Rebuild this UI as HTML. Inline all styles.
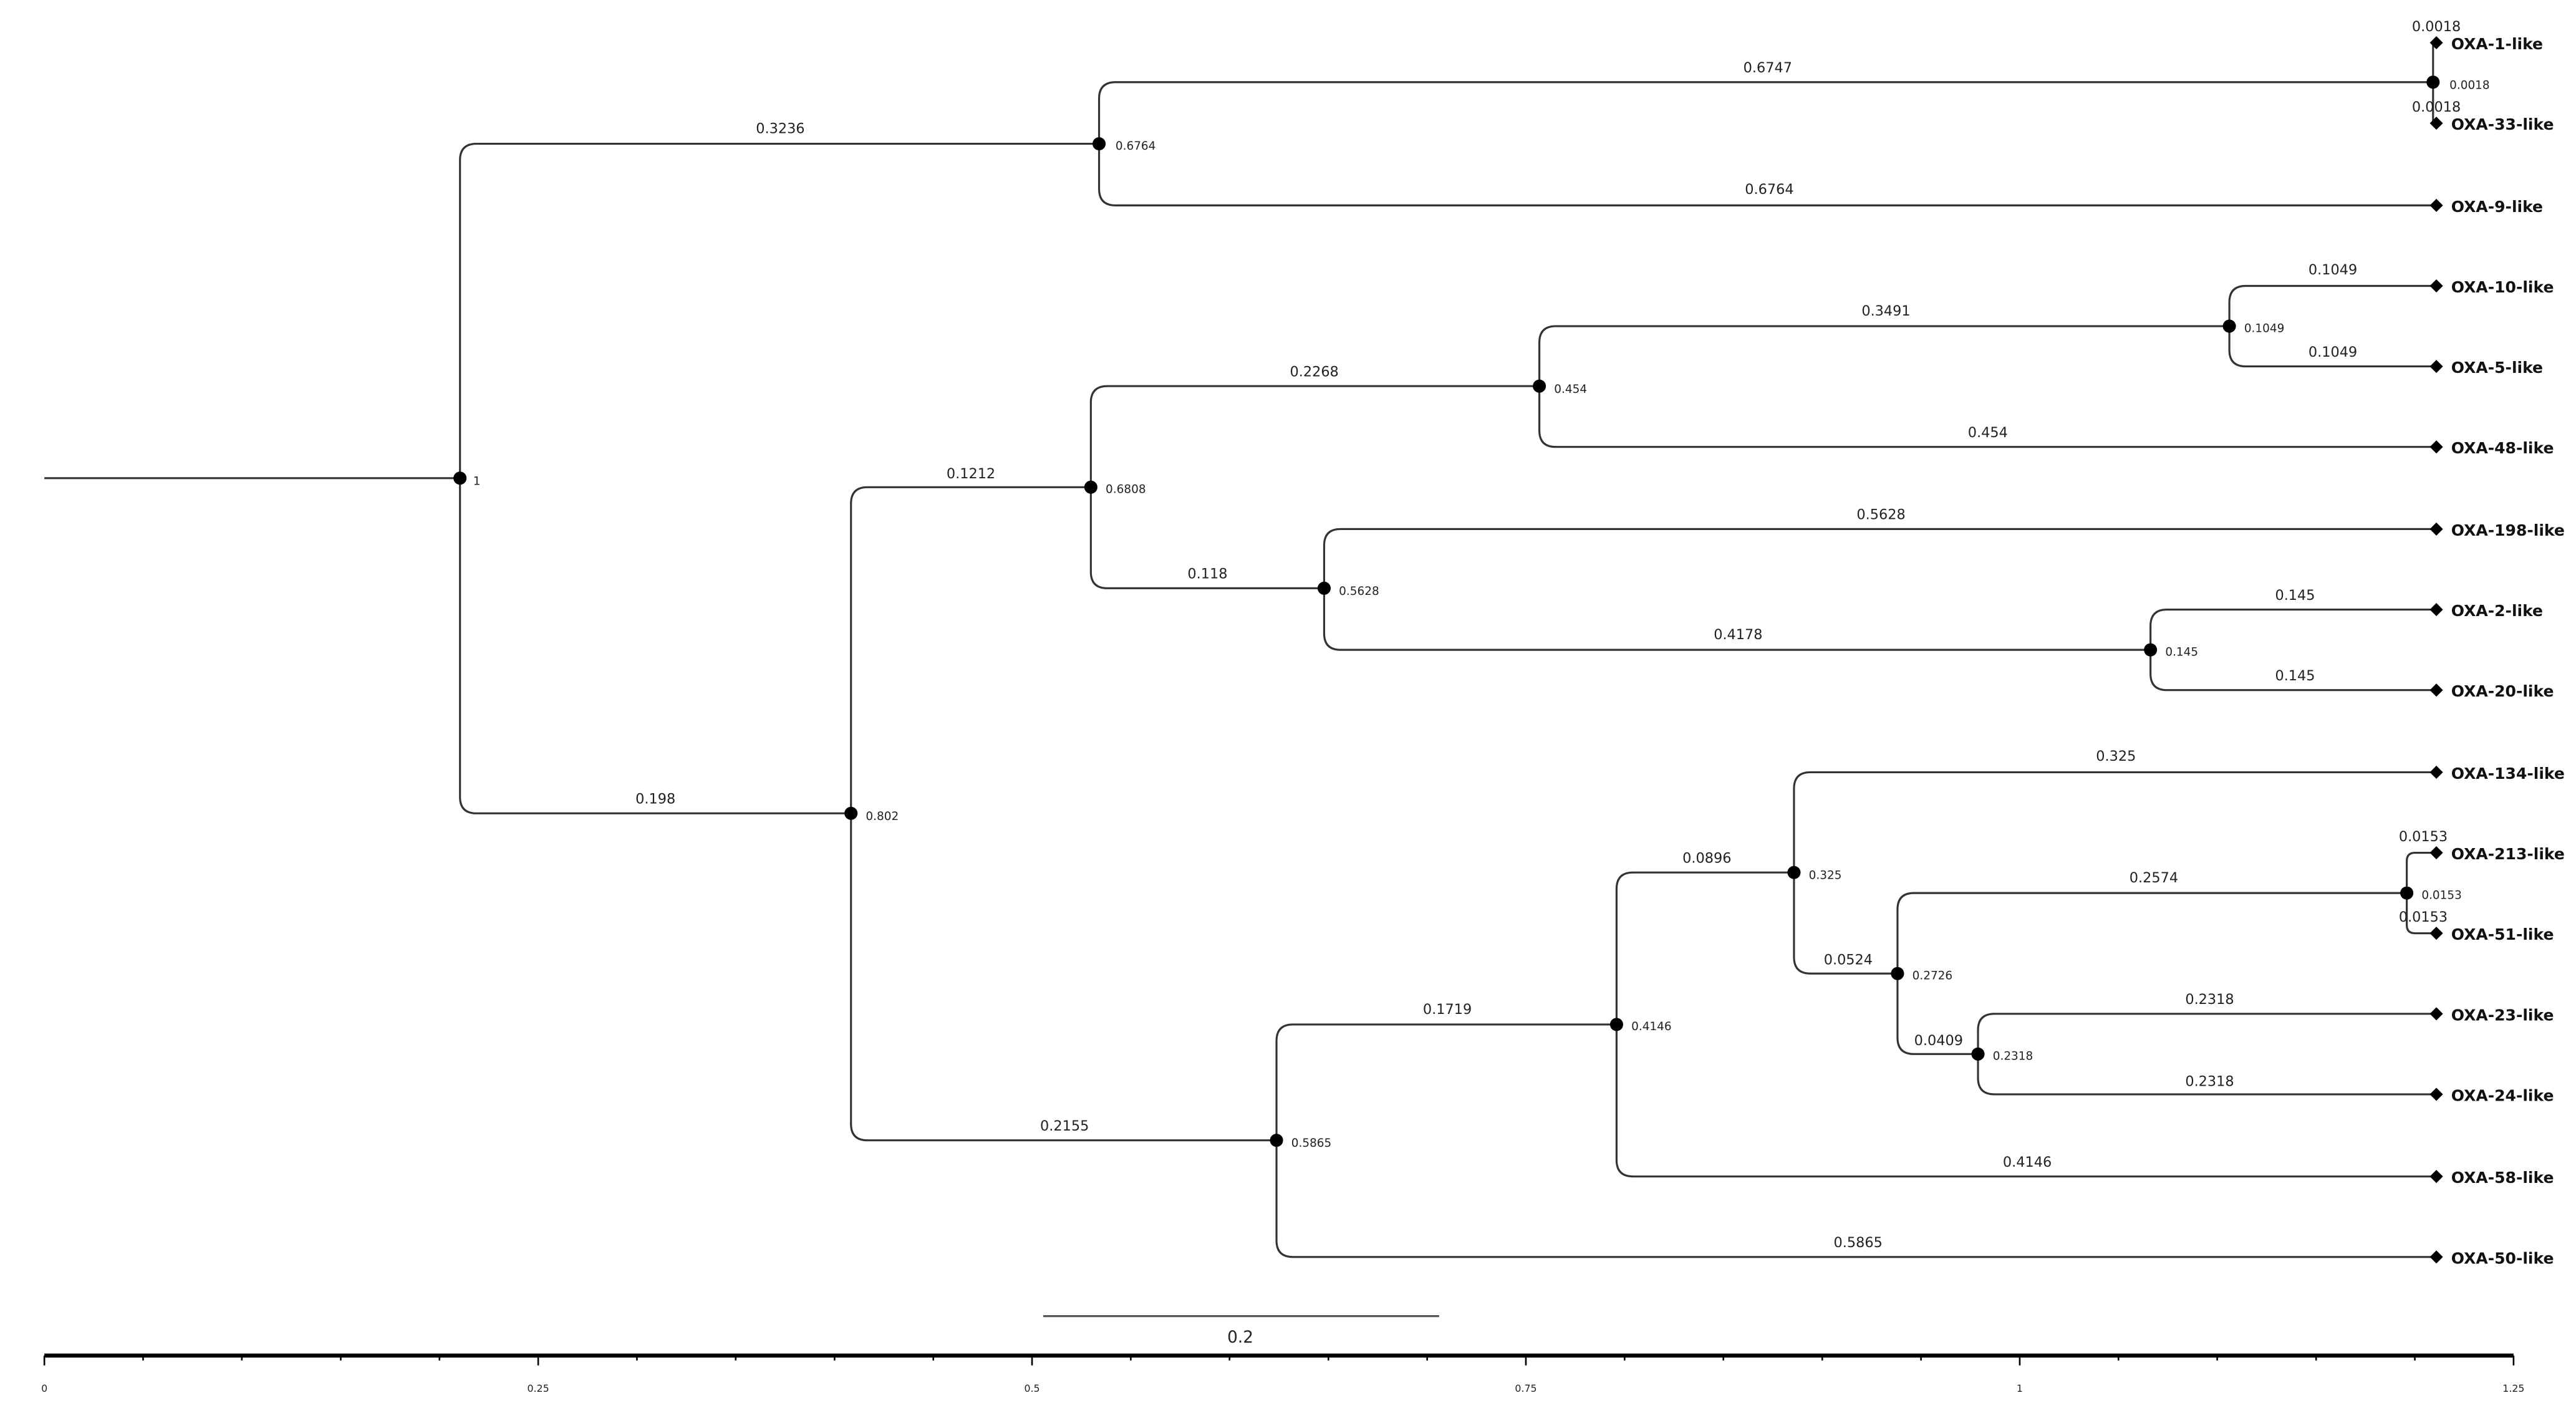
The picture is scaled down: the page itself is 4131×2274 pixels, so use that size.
<!DOCTYPE html>
<html><head><meta charset="utf-8"><style>html,body{margin:0;padding:0;background:#fff;}svg{display:block;}</style></head>
<body>
<svg width="4131" height="2274" viewBox="0 0 1568 863" preserveAspectRatio="none" xmlns="http://www.w3.org/2000/svg" font-family="'DejaVu Sans','Liberation Sans',sans-serif">
<g fill="none" stroke="#333" stroke-width="1.2">
<path d="M27 291 H280"/>
<path d="M280 291 V97.5 Q280 87.5 290 87.5 H669"/>
<path d="M280 291 V485 Q280 495 290 495 H518"/>
<path d="M669 87.5 V60 Q669 50 679 50 H1481"/>
<path d="M669 87.5 V115 Q669 125 679 125 H1483"/>
<path d="M1481 50 V26 H1483"/>
<path d="M1481 50 V75 H1483"/>
<path d="M518 495 V306.5 Q518 296.5 528 296.5 H664"/>
<path d="M518 495 V684 Q518 694 528 694 H777"/>
<path d="M664 296.5 V245 Q664 235 674 235 H937"/>
<path d="M664 296.5 V348 Q664 358 674 358 H806"/>
<path d="M937 235 V208.5 Q937 198.5 947 198.5 H1357"/>
<path d="M937 235 V262 Q937 272 947 272 H1483"/>
<path d="M1357 198.5 V184 Q1357 174 1367 174 H1483"/>
<path d="M1357 198.5 V213 Q1357 223 1367 223 H1483"/>
<path d="M806 358 V332 Q806 322 816 322 H1483"/>
<path d="M806 358 V385.5 Q806 395.5 816 395.5 H1309"/>
<path d="M1309 395.5 V381 Q1309 371 1319 371 H1483"/>
<path d="M1309 395.5 V410 Q1309 420 1319 420 H1483"/>
<path d="M777 694 V633.5 Q777 623.5 787 623.5 H984"/>
<path d="M777 694 V755 Q777 765 787 765 H1483"/>
<path d="M984 623.5 V541 Q984 531 994 531 H1092"/>
<path d="M984 623.5 V706 Q984 716 994 716 H1483"/>
<path d="M1092 531 V480 Q1092 470 1102 470 H1483"/>
<path d="M1092 531 V582.5 Q1092 592.5 1102 592.5 H1155"/>
<path d="M1155 592.5 V553.5 Q1155 543.5 1165 543.5 H1465"/>
<path d="M1155 592.5 V631.5 Q1155 641.5 1165 641.5 H1204"/>
<path d="M1465 543.5 V524 Q1465 519 1470 519 H1483"/>
<path d="M1465 543.5 V563 Q1465 568 1470 568 H1483"/>
<path d="M1204 641.5 V627 Q1204 617 1214 617 H1483"/>
<path d="M1204 641.5 V656 Q1204 666 1214 666 H1483"/>
</g>
<g fill="#000">
<circle cx="280" cy="291" r="4"/><circle cx="669" cy="87.5" r="4"/><circle cx="1481" cy="50" r="4"/>
<circle cx="518" cy="495" r="4"/><circle cx="664" cy="296.5" r="4"/><circle cx="937" cy="235" r="4"/>
<circle cx="1357" cy="198.5" r="4"/><circle cx="806" cy="358" r="4"/><circle cx="1309" cy="395.5" r="4"/>
<circle cx="777" cy="694" r="4"/><circle cx="984" cy="623.5" r="4"/><circle cx="1092" cy="531" r="4"/>
<circle cx="1155" cy="592.5" r="4"/><circle cx="1465" cy="543.5" r="4"/><circle cx="1204" cy="641.5" r="4"/>
</g>
<g fill="#000">
<polygon points="1483,22 1487,26 1483,30 1479,26"/>
<polygon points="1483,71 1487,75 1483,79 1479,75"/>
<polygon points="1483,121 1487,125 1483,129 1479,125"/>
<polygon points="1483,170 1487,174 1483,178 1479,174"/>
<polygon points="1483,219 1487,223 1483,227 1479,223"/>
<polygon points="1483,268 1487,272 1483,276 1479,272"/>
<polygon points="1483,318 1487,322 1483,326 1479,322"/>
<polygon points="1483,367 1487,371 1483,375 1479,371"/>
<polygon points="1483,416 1487,420 1483,424 1479,420"/>
<polygon points="1483,466 1487,470 1483,474 1479,470"/>
<polygon points="1483,515 1487,519 1483,523 1479,519"/>
<polygon points="1483,564 1487,568 1483,572 1479,568"/>
<polygon points="1483,613 1487,617 1483,621 1479,617"/>
<polygon points="1483,662 1487,666 1483,670 1479,666"/>
<polygon points="1483,712 1487,716 1483,720 1479,716"/>
<polygon points="1483,761 1487,765 1483,769 1479,765"/>
</g>
<g font-size="9.5" font-weight="bold" fill="#111">
<text x="1492" y="30">OXA-1-like</text><text x="1492" y="79">OXA-33-like</text><text x="1492" y="129">OXA-9-like</text>
<text x="1492" y="178">OXA-10-like</text><text x="1492" y="227">OXA-5-like</text><text x="1492" y="276">OXA-48-like</text>
<text x="1492" y="326">OXA-198-like</text><text x="1492" y="375">OXA-2-like</text><text x="1492" y="424">OXA-20-like</text>
<text x="1492" y="474">OXA-134-like</text><text x="1492" y="523">OXA-213-like</text><text x="1492" y="572">OXA-51-like</text>
<text x="1492" y="621">OXA-23-like</text><text x="1492" y="670">OXA-24-like</text><text x="1492" y="720">OXA-58-like</text>
<text x="1492" y="769">OXA-50-like</text>
</g>
<g font-size="8.5" fill="#222" text-anchor="middle">
<text x="475" y="81">0.3236</text><text x="399" y="489">0.198</text><text x="1076" y="44">0.6747</text>
<text x="1077" y="118">0.6764</text><text x="1483" y="19">0.0018</text><text x="1483" y="68">0.0018</text>
<text x="591" y="291">0.1212</text><text x="648" y="688">0.2155</text><text x="800" y="229">0.2268</text>
<text x="735" y="352">0.118</text><text x="1148" y="192">0.3491</text><text x="1210" y="266">0.454</text>
<text x="1420" y="167">0.1049</text><text x="1420" y="217">0.1049</text><text x="1145" y="316">0.5628</text>
<text x="1058" y="389">0.4178</text><text x="1397" y="365">0.145</text><text x="1397" y="414">0.145</text>
<text x="881" y="617">0.1719</text><text x="1131" y="759">0.5865</text><text x="1039" y="525">0.0896</text>
<text x="1234" y="710">0.4146</text><text x="1288" y="463">0.325</text><text x="1125" y="587">0.0524</text>
<text x="1311" y="537">0.2574</text><text x="1180" y="636">0.0409</text><text x="1475" y="512">0.0153</text>
<text x="1475" y="561">0.0153</text><text x="1345" y="611">0.2318</text><text x="1345" y="661">0.2318</text>
</g>
<g font-size="7" fill="#222">
<text x="288" y="295">1</text><text x="679" y="91">0.6764</text><text x="1491" y="54">0.0018</text>
<text x="527" y="499">0.802</text><text x="673" y="300">0.6808</text><text x="946" y="239">0.454</text>
<text x="1366" y="202">0.1049</text><text x="815" y="362">0.5628</text><text x="1318" y="399">0.145</text>
<text x="786" y="698">0.5865</text><text x="993" y="627">0.4146</text><text x="1101" y="535">0.325</text>
<text x="1164" y="596">0.2726</text><text x="1474" y="547">0.0153</text><text x="1213" y="645">0.2318</text>
</g>
<line x1="635" y1="801" x2="876" y2="801" stroke="#555" stroke-width="1.2"/>
<text x="755" y="817" font-size="10" fill="#222" text-anchor="middle">0.2</text>
<line x1="27" y1="825" x2="1530" y2="825" stroke="#000" stroke-width="2.5"/>
<g stroke="#000" stroke-width="1">
<line x1="27" y1="825" x2="27" y2="831"/><line x1="327.6" y1="825" x2="327.6" y2="831"/><line x1="628.2" y1="825" x2="628.2" y2="831"/><line x1="928.8" y1="825" x2="928.8" y2="831"/><line x1="1229.4" y1="825" x2="1229.4" y2="831"/><line x1="1530" y1="825" x2="1530" y2="831"/>
<line x1="87.1" y1="825" x2="87.1" y2="828"/><line x1="147.2" y1="825" x2="147.2" y2="828"/><line x1="207.4" y1="825" x2="207.4" y2="828"/><line x1="267.5" y1="825" x2="267.5" y2="828"/>
<line x1="387.7" y1="825" x2="387.7" y2="828"/><line x1="447.8" y1="825" x2="447.8" y2="828"/><line x1="508" y1="825" x2="508" y2="828"/><line x1="568.1" y1="825" x2="568.1" y2="828"/>
<line x1="688.3" y1="825" x2="688.3" y2="828"/><line x1="748.4" y1="825" x2="748.4" y2="828"/><line x1="808.6" y1="825" x2="808.6" y2="828"/><line x1="868.7" y1="825" x2="868.7" y2="828"/>
<line x1="988.9" y1="825" x2="988.9" y2="828"/><line x1="1049" y1="825" x2="1049" y2="828"/><line x1="1109.2" y1="825" x2="1109.2" y2="828"/><line x1="1169.3" y1="825" x2="1169.3" y2="828"/>
<line x1="1289.5" y1="825" x2="1289.5" y2="828"/><line x1="1349.6" y1="825" x2="1349.6" y2="828"/><line x1="1409.8" y1="825" x2="1409.8" y2="828"/><line x1="1469.9" y1="825" x2="1469.9" y2="828"/>
</g>
<g font-size="6" fill="#222" text-anchor="middle">
<text x="27" y="847">0</text><text x="327.6" y="847">0.25</text><text x="628.2" y="847">0.5</text><text x="928.8" y="847">0.75</text><text x="1229.4" y="847">1</text><text x="1530" y="847">1.25</text>
</g>
</svg>
</body></html>
